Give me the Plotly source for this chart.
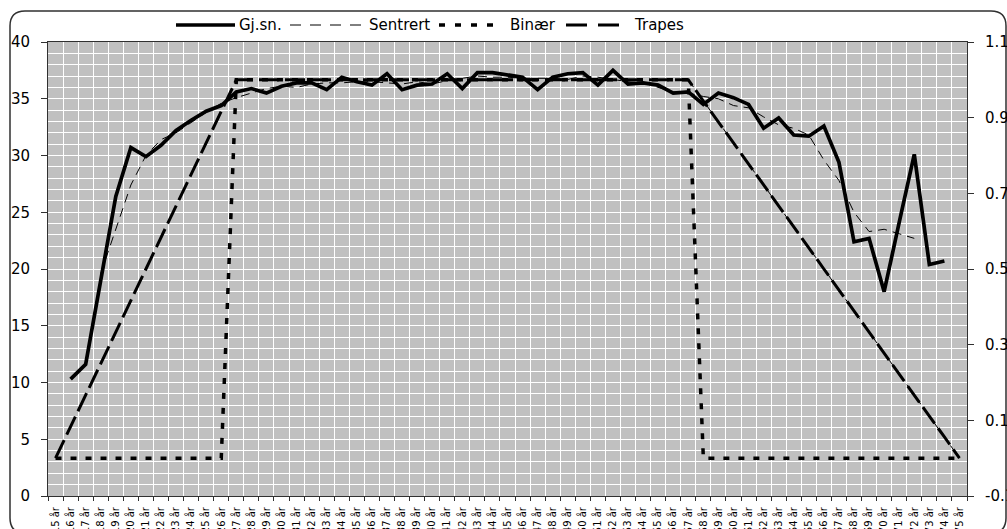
import plotly.graph_objects as go

# ---------------- data ----------------
AGES = [f"{a} år" for a in range(15, 76)]

GJSN = [None, 10.3, 11.6, 19.0, 26.4, 30.7, 29.9, 30.9, 32.2, 33.1,
        33.9, 34.4, 35.6, 35.9, 35.5, 36.1, 36.4, 36.4, 35.8, 36.9,
        36.5, 36.2, 37.2, 35.8, 36.2, 36.3, 37.2, 35.9, 37.3, 37.3,
        37.1, 36.9, 35.8, 36.9, 37.2, 37.3, 36.2, 37.5, 36.3, 36.4,
        36.2, 35.5, 35.6, 34.5, 35.5, 35.1, 34.5, 32.4, 33.3, 31.8,
        31.7, 32.6, 29.4, 22.4, 22.7, 18.0, 24.1, 30.1, 20.4, 20.7,
        None]

SENTRERT = [None, None, None, 19.6, 23.5, 27.4, 30.0, 31.4, 32.0, 32.9,
            33.8, 34.6, 35.1, 35.5, 35.9, 36.1, 36.0, 36.3, 36.4, 36.4,
            36.5, 36.5, 36.4, 36.3, 36.5, 36.3, 36.6, 36.8, 37.0, 36.9,
            36.9, 36.8, 36.8, 36.8, 36.7, 37.0, 36.9, 36.7, 36.5, 36.4,
            36.0, 35.6, 35.5, 35.2, 35.0, 34.4, 34.2, 33.4, 32.7, 32.4,
            31.8, 29.6, 27.8, 25.0, 23.3, 23.5, 23.1, 22.7, None, None,
            None]

BINAER = [0, 0, 0, 0, 0, 0, 0, 0, 0, 0,
          0, 0, 1, 1, 1, 1, 1, 1, 1, 1,
          1, 1, 1, 1, 1, 1, 1, 1, 1, 1,
          1, 1, 1, 1, 1, 1, 1, 1, 1, 1,
          1, 1, 1, 0, 0, 0, 0, 0, 0, 0,
          0, 0, 0, 0, 0, 0, 0, 0, 0, 0,
          0]

TRAPES = [0.0, 0.083, 0.167, 0.25, 0.333, 0.417, 0.5, 0.583, 0.667, 0.75,
          0.833, 0.917, 1.0, 1.0, 1.0, 1.0, 1.0, 1.0, 1.0, 1.0,
          1.0, 1.0, 1.0, 1.0, 1.0, 1.0, 1.0, 1.0, 1.0, 1.0,
          1.0, 1.0, 1.0, 1.0, 1.0, 1.0, 1.0, 1.0, 1.0, 1.0,
          1.0, 1.0, 1.0, 0.944, 0.889, 0.833, 0.778, 0.722, 0.667, 0.611,
          0.556, 0.5, 0.444, 0.389, 0.333, 0.278, 0.222, 0.167, 0.111, 0.056,
          0.0]

TRAPES_THIN = [None, None, None, None, None, None, None, None, None, None,
               None, None, None, None, None, None, None, None, None, None,
               None, None, None, None, None, None, None, None, None, None,
               None, None, None, None, None, None, None, None, None, None,
               None, None, 1.0, 0.944, 0.889, 0.833, 0.778, 0.722, 0.667, 0.611,
               0.556, 0.5, 0.444, 0.389, 0.333, 0.278, 0.222, 0.167, 0.111, 0.056,
               0.0]

LEFT_TICKS = [0, 5, 10, 15, 20, 25, 30, 35, 40]
RIGHT_TICKS = [-0.1, 0.1, 0.3, 0.5, 0.7, 0.9, 1.1]
RIGHT_LABELS = ["-0.1", "0.1", "0.3", "0.5", "0.7", "0.9", "1.1"]
LEGEND_NAMES = ["Gj.sn.", "Sentrert", "Binær", "Trapes"]

# ---------------- layout geometry (pixels) ----------------
W, H = 1007, 529
PL, PR, PT, PB = 48, 967, 42, 496
FONT = "DejaVu Sans"


def px(x):
    return (x - PL) / (PR - PL)


def py(y):
    return (PB - y) / (PB - PT)


fig = go.Figure()

fig.add_trace(go.Scatter(x=AGES, y=GJSN, mode="lines", name=LEGEND_NAMES[0],
                         line=dict(color="black", width=3.7), yaxis="y",
                         showlegend=False))
fig.add_trace(go.Scatter(x=AGES, y=SENTRERT, mode="lines", name=LEGEND_NAMES[1],
                         line=dict(color="black", width=1, dash="9px,6px"),
                         yaxis="y", showlegend=False))
fig.add_trace(go.Scatter(x=AGES, y=BINAER, mode="lines", name=LEGEND_NAMES[2],
                         line=dict(color="black", width=3.5, dash="6px,9px"),
                         yaxis="y2", showlegend=False))
fig.add_trace(go.Scatter(x=AGES, y=TRAPES, mode="lines", name=LEGEND_NAMES[3],
                         line=dict(color="black", width=3, dash="20px,6px"),
                         yaxis="y2", showlegend=False))
fig.add_trace(go.Scatter(x=AGES, y=TRAPES_THIN, mode="lines", name="Trapes (tynn)",
                         line=dict(color="black", width=1, dash="9px,6px"),
                         yaxis="y2", showlegend=False))

# ---------------- custom legend ----------------
LY = 25
legend_items = [
    (176, 235, dict(color="black", width=3.7), 237, LEGEND_NAMES[0]),
    (290, 362, dict(color="black", width=1, dash="11px,9px"), 367, LEGEND_NAMES[1]),
    (439, 502, dict(color="black", width=3.5, dash="6px,10px"), 508, LEGEND_NAMES[2]),
    (566, 620, dict(color="black", width=3, dash="21px,11px"), 632, LEGEND_NAMES[3]),
]
shapes = []
annotations = []
for x0, x1, ln, tx, name in legend_items:
    shapes.append(dict(type="line", xref="paper", yref="paper",
                       x0=px(x0), x1=px(x1), y0=py(LY), y1=py(LY), line=ln))
    annotations.append(dict(xref="paper", yref="paper", x=px(tx), y=py(LY),
                            xanchor="left", yanchor="middle", showarrow=False,
                            text=name, font=dict(family=FONT, size=15, color="black")))

# ---------------- chart-area rounded border ----------------
bx0, by0, bx1, by1, r = 10, 11, 1006, 533, 15
path = (f"M {px(bx0)},{py(by0 + r)} "
        f"Q {px(bx0)},{py(by0)} {px(bx0 + r)},{py(by0)} "
        f"L {px(bx1 - r)},{py(by0)} "
        f"Q {px(bx1)},{py(by0)} {px(bx1)},{py(by0 + r)} "
        f"L {px(bx1)},{py(by1 - r)} "
        f"Q {px(bx1)},{py(by1)} {px(bx1 - r)},{py(by1)} "
        f"L {px(bx0 + r)},{py(by1)} "
        f"Q {px(bx0)},{py(by1)} {px(bx0)},{py(by1 - r)} Z")
shapes.append(dict(type="path", xref="paper", yref="paper", path=path,
                   line=dict(color="#303030", width=1.5), layer="below"))

fig.update_layout(
    width=W, height=H,
    margin=dict(l=PL, r=W - PR, t=PT, b=H - PB, pad=0, autoexpand=False),
    paper_bgcolor="white",
    plot_bgcolor="#C0C0C0",
    showlegend=False,
    font=dict(family=FONT, size=15, color="black"),
    xaxis=dict(
        type="category", categoryorder="array", categoryarray=AGES,
        range=[-0.5, len(AGES) - 0.5], automargin=False,
        tickson="boundaries", ticks="outside", ticklen=4, tickcolor="#303030",
        showgrid=True, gridcolor="white", gridwidth=1,
        showline=True, linecolor="#303030", linewidth=1, mirror=True,
        tickangle=-90, tickfont=dict(family=FONT, size=10, color="black"),
        ticklabelstandoff=6, zeroline=False, fixedrange=True,
    ),
    yaxis=dict(
        range=[0, 40], tickvals=LEFT_TICKS, ticks="outside", ticklen=6,
        tickcolor="#303030", automargin=False,
        showgrid=True, gridcolor="white", gridwidth=1,
        minor=dict(dtick=1, showgrid=True, gridcolor="white", gridwidth=1, ticks=""),
        showline=True, linecolor="#303030", linewidth=1, zeroline=False,
        tickfont=dict(family=FONT, size=15, color="black"),
        ticklabelstandoff=8, fixedrange=True,
    ),
    yaxis2=dict(
        range=[-0.1, 1.1], overlaying="y", side="right", automargin=False,
        tickvals=RIGHT_TICKS, ticktext=RIGHT_LABELS,
        ticks="outside", ticklen=6, tickcolor="#303030",
        showgrid=False, showline=True, linecolor="#303030", linewidth=1,
        zeroline=False, tickfont=dict(family=FONT, size=15, color="black"),
        ticklabelstandoff=8, fixedrange=True,
    ),
    shapes=shapes,
    annotations=annotations,
)

fig.write_html("out.html", config={"displayModeBar": False},
               post_script="document.body.style.margin='0';document.body.style.overflow='hidden';")
